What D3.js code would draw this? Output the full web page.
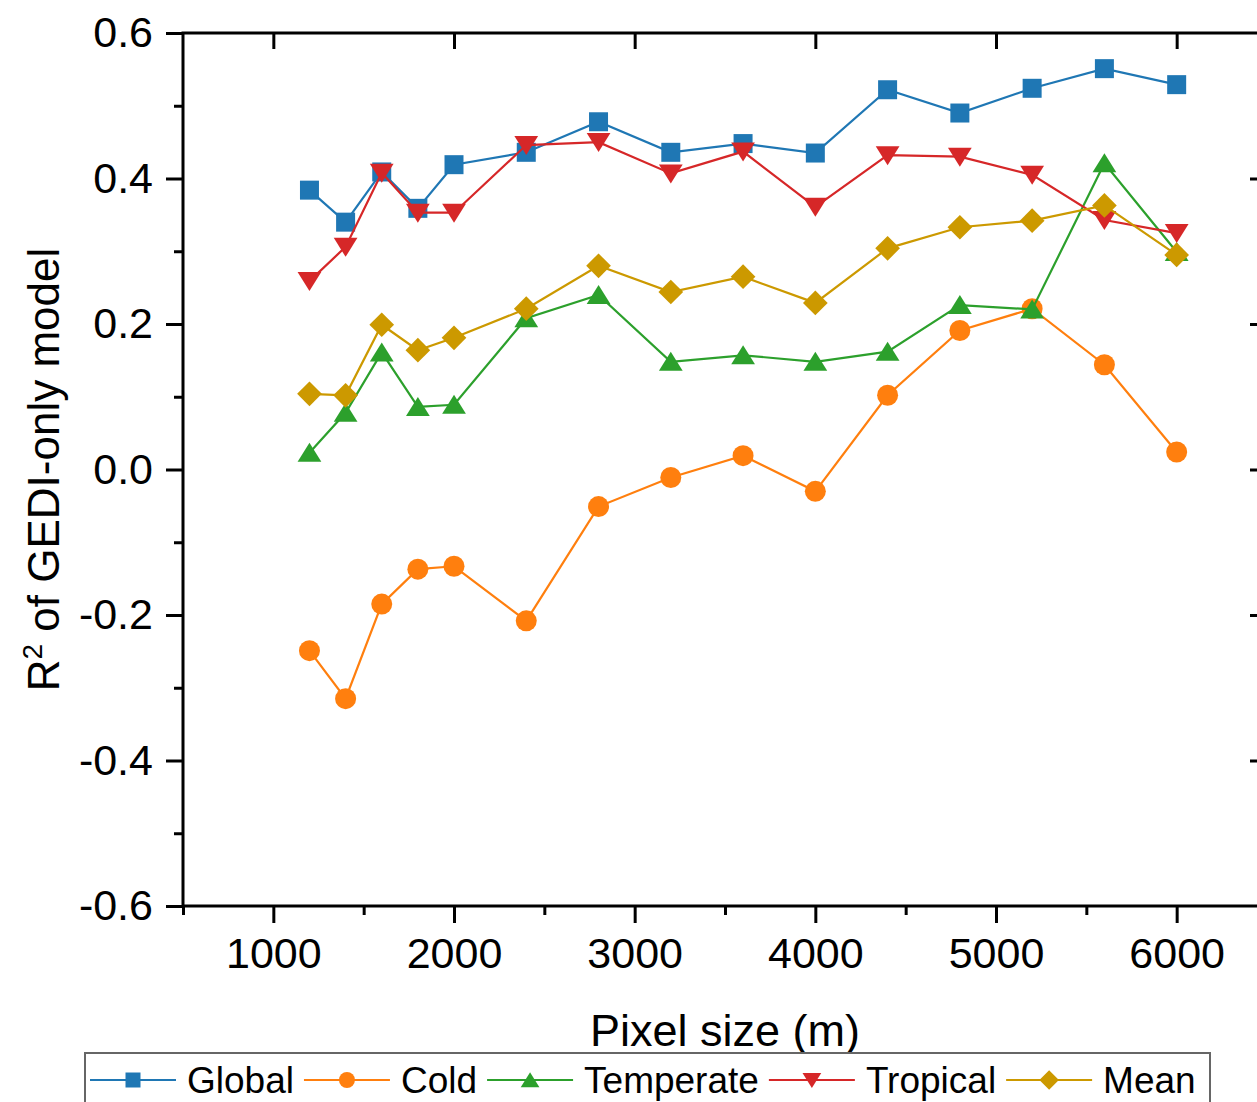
<!DOCTYPE html>
<html>
<head>
<meta charset="utf-8">
<script src="https://cdn.jsdelivr.net/npm/d3@7"></script>
<style>
  body { margin: 0; background: #fff; }
  svg { display: block; font-family: "Liberation Sans", Arial, sans-serif; }
</style>
</head>
<body>
<div id="container"><svg></svg></div>
<script>
let width = 1257;
let height = 1102;

// pixel sizes (m)
let pixel_size = [1200, 1400, 1600, 1800, 2000, 2400, 2800, 3200, 3600, 4000, 4400, 4800, 5200, 5600, 6000];

// R2 per series
let global_r2    = [0.384, 0.340, 0.409, 0.359, 0.419, 0.436, 0.478, 0.436, 0.448, 0.435, 0.522, 0.490, 0.524, 0.551, 0.529];
let cold_r2      = [-0.249, -0.315, -0.185, -0.137, -0.133, -0.208, -0.051, -0.011, 0.019, -0.030, 0.102, 0.191, 0.221, 0.144, 0.024];
let temperate_r2 = [0.023, 0.078, 0.161, 0.086, 0.089, 0.208, 0.240, 0.148, 0.157, 0.148, 0.162, 0.226, 0.220, 0.421, 0.299];
let tropical_r2  = [0.259, 0.306, 0.408, 0.353, 0.353, 0.446, 0.450, 0.407, 0.437, 0.361, 0.432, 0.430, 0.405, 0.343, 0.325];
let mean_r2      = [0.104, 0.102, 0.199, 0.164, 0.181, 0.221, 0.280, 0.244, 0.265, 0.229, 0.304, 0.333, 0.342, 0.363, 0.295];

let series_names = ['Global', 'Cold', 'Temperate', 'Tropical', 'Mean'];
let x_ticks = [1000, 2000, 3000, 4000, 5000, 6000];
let y_ticks = [-0.6, -0.4, -0.2, 0.0, 0.2, 0.4, 0.6];

let series = [
    {name: series_names[0], values: global_r2,    color: '#1f77b4', symbol: 'square'},
    {name: series_names[1], values: cold_r2,      color: '#ff7f0e', symbol: 'circle'},
    {name: series_names[2], values: temperate_r2, color: '#2ca02c', symbol: 'up'},
    {name: series_names[3], values: tropical_r2,  color: '#d62728', symbol: 'down'},
    {name: series_names[4], values: mean_r2,      color: '#cc9900', symbol: 'diamond'}
];

// marker path centred on 0,0
function marker_path(sym, s) {
    if (sym == 'square') return `M${-s},${-s}H${s}V${s}H${-s}Z`;
    if (sym == 'circle') return `M${-s},0A${s},${s} 0 1,0 ${s},0A${s},${s} 0 1,0 ${-s},0Z`;
    if (sym == 'up') return `M0,${-s*1.05}L${s*1.25},${s*0.95}L${-s*1.25},${s*0.95}Z`;
    if (sym == 'down') return `M0,${s*1.05}L${s*1.25},${-s*0.95}L${-s*1.25},${-s*0.95}Z`;
    if (sym == 'diamond') return `M0,${-s*1.3}L${s*1.3},0L0,${s*1.3}L${-s*1.3},0Z`;
}

function draw_main() {
    let padding = {'left': 183, 'top': 33, 'right': 1267, 'bottom': 906};
    let svg = d3.select('#container').select('svg')
        .attr('width', width)
        .attr('height', height);

    let x = d3.scaleLinear().domain([500, 6500]).range([padding.left, padding.right]);
    let y = d3.scaleLinear().domain([-0.6, 0.6]).range([padding.bottom, padding.top]);

    let minor_x = d3.range(500, 6501, 500).filter(d => d % 1000 != 0);
    let minor_y = d3.range(-5, 6, 2).map(d => d / 10);

    // bottom axis
    let gb = svg.append('g').attr('transform', `translate(0, ${padding.bottom})`);
    gb.call(d3.axisBottom(x).tickValues(x_ticks).tickSize(17).tickPadding(14).tickFormat(d3.format('d')));
    gb.append('g').call(d3.axisBottom(x).tickValues(minor_x).tickSize(9).tickFormat(''));
    // top axis, ticks inside
    svg.append('g').attr('transform', `translate(0, ${padding.top})`)
        .call(d3.axisBottom(x).tickValues(x_ticks).tickSize(16).tickFormat(''));
    // left axis
    let gl = svg.append('g').attr('transform', `translate(${padding.left}, 0)`);
    gl.call(d3.axisLeft(y).tickValues(y_ticks).tickSize(17).tickPadding(13)
        .tickFormat(d => d3.format('.1f')(d).replace('\u2212', '-')));
    gl.append('g').call(d3.axisLeft(y).tickValues(minor_y).tickSize(9).tickFormat(''));
    // right axis, ticks inside
    svg.append('g').attr('transform', `translate(${padding.right}, 0)`)
        .call(d3.axisRight(y).tickValues(y_ticks.slice(1, -1)).tickSize(-17).tickFormat(''));

    svg.selectAll('.domain').remove();
    svg.selectAll('.tick line').attr('stroke', '#000').attr('stroke-width', 3);
    svg.selectAll('.tick text').attr('fill', '#000').attr('font-size', '43px')
        .attr('font-family', '"Liberation Sans", Arial, sans-serif');
    // frame
    svg.append('rect')
        .attr('x', padding.left).attr('y', padding.top)
        .attr('width', padding.right - padding.left).attr('height', padding.bottom - padding.top)
        .attr('fill', 'none').attr('stroke', '#000').attr('stroke-width', 3);

    // axis titles
    svg.append('text')
        .attr('x', (padding.left + padding.right) / 2)
        .attr('y', 1046)
        .attr('text-anchor', 'middle')
        .attr('font-size', '45px')
        .text('Pixel size (m)');

    let yt = svg.append('text')
        .attr('transform', `translate(59, ${(padding.top + padding.bottom) / 2}) rotate(-90)`)
        .attr('text-anchor', 'middle')
        .attr('font-size', '44px');
    yt.append('tspan').text('R');
    yt.append('tspan').attr('font-size', '28px').attr('dy', -17).text('2');
    yt.append('tspan').attr('dy', 17).text(' of GEDI-only model');

    // lines and markers
    let line = d3.line().x((d, i) => x(pixel_size[i])).y(d => y(d));
    series.forEach(s => {
        let g = svg.append('g');
        g.append('path')
            .attr('d', line(s.values))
            .attr('fill', 'none')
            .attr('stroke', s.color)
            .attr('stroke-width', 2.2);
        g.selectAll('path.mk')
            .data(s.values)
            .enter().append('path')
            .attr('class', 'mk')
            .attr('transform', (d, i) => `translate(${x(pixel_size[i])}, ${y(d)})`)
            .attr('d', marker_path(s.symbol, s.symbol == 'circle' ? 10.5 : 9.5))
            .attr('fill', s.color);
    });

    // legend
    let leg = svg.append('g');
    leg.append('rect')
        .attr('x', 85).attr('y', 1053)
        .attr('width', 1125).attr('height', 70)
        .attr('fill', '#fff').attr('stroke', '#666').attr('stroke-width', 2);
    let lx = 90;
    let ly = 1080;
    series.forEach(s => {
        leg.append('line')
            .attr('x1', lx).attr('x2', lx + 86)
            .attr('y1', ly).attr('y2', ly)
            .attr('stroke', s.color).attr('stroke-width', 2.2);
        leg.append('path')
            .attr('transform', `translate(${lx + 43}, ${ly})`)
            .attr('d', marker_path(s.symbol, s.symbol == 'circle' ? 8 : 7.5))
            .attr('fill', s.color);
        let t = leg.append('text')
            .attr('x', lx + 97).attr('y', ly + 13)
            .attr('font-size', '37px')
            .text(s.name);
        lx = lx + 97 + t.node().getComputedTextLength() + 10;
    });
}

draw_main();
</script>
</body>
</html>
